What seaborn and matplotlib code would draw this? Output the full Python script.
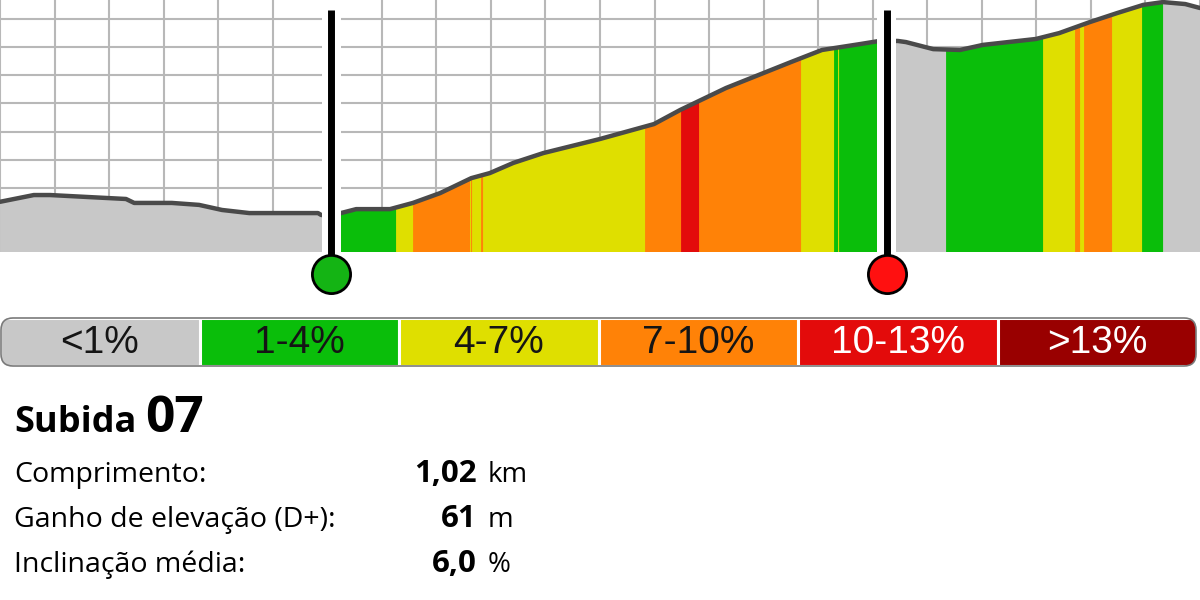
import numpy as np
import matplotlib
matplotlib.use('Agg')
import matplotlib.pyplot as plt
from matplotlib.patches import FancyBboxPatch
from matplotlib.transforms import IdentityTransform
from matplotlib.ticker import MultipleLocator
import seaborn as sns

# ----------------------------
# Data: elevation profile (km, m)
# ----------------------------
dist_km = [0.000, 0.062, 0.092, 0.161, 0.231, 0.246, 0.315, 0.365, 0.407, 0.457,
           0.583, 0.589, 0.625, 0.653, 0.715, 0.757, 0.807, 0.864, 0.898, 0.941,
           0.996, 1.100, 1.199, 1.247, 1.331, 1.450, 1.507, 1.577, 1.612, 1.646,
           1.661, 1.711, 1.760, 1.802, 1.899, 1.942, 1.998, 2.048, 2.096, 2.132,
           2.173, 2.200]
elev_m = [95.1, 97.5, 97.5, 96.8, 96.1, 94.7, 94.7, 94.0, 92.2, 91.1,
          91.1, 90.4, 91.1, 92.5, 92.5, 94.7, 98.2, 103.5, 105.3, 108.9,
          112.4, 117.4, 122.7, 127.7, 135.5, 144.7, 149.0, 151.1, 152.2, 152.2,
          151.8, 149.3, 149.0, 150.8, 152.9, 155.0, 158.9, 162.1, 165.0, 166.0,
          165.3, 163.9]

# gradient segments: end of each segment (km) and its class
seg_end_km = [0.607, 0.726, 0.757, 0.861, 0.8635, 0.866, 0.881, 0.886, 1.183,
              1.249, 1.282, 1.4685, 1.529, 1.536, 1.539, 1.626, 1.734, 1.912,
              1.970, 1.980, 1.987, 2.038, 2.093, 2.132, 2.200]
seg_class = ['<1%', '1-4%', '4-7%', '7-10%', '4-7%', '7-10%', '4-7%', '7-10%', '4-7%',
             '7-10%', '10-13%', '7-10%', '4-7%', '1-4%', '4-7%', '1-4%', '<1%', '1-4%',
             '4-7%', '7-10%', '4-7%', '7-10%', '4-7%', '1-4%', '<1%']

climb_start_km = 0.607
climb_end_km = 1.626

classes = ['<1%', '1-4%', '4-7%', '7-10%', '10-13%', '>13%']
class_colors = ['#c8c8c8', '#0abe0a', '#dfdf00', '#ff8207', '#e30b0b', '#990000']
class_text = ['#151515', '#151515', '#151515', '#151515', 'white', 'white']
palette = dict(zip(classes, class_colors))

climb_name = 'Subida'
climb_number = '07'
stat_labels = ['Comprimento:', 'Ganho de elevação (D+):', 'Inclinação média:']
stat_values = ['1,02', '61', '6,0']
stat_units = ['km', 'm', '%']

# ----------------------------
# Style
# ----------------------------
sns.set_style('white')
plt.rcParams['font.family'] = ['Open Sans', 'DejaVu Sans']

fig = plt.figure(figsize=(12, 6), dpi=100)

# ----------------------------
# Profile
# ----------------------------
ax = fig.add_axes([0, 0.58, 1, 0.42])
ylo, yhi = 77.28, 166.74
ax.set_xlim(0, 2.2)
ax.set_ylim(ylo, yhi)
ax.xaxis.set_major_locator(MultipleLocator(0.1))
ax.yaxis.set_major_locator(MultipleLocator(10))
ax.grid(True, color='#b8b8b8', lw=1.5)
ax.set_axisbelow(True)
ax.tick_params(length=0, labelbottom=False, labelleft=False)
for s in ax.spines.values():
    s.set_visible(False)

area = ax.fill_between(dist_km, elev_m, ylo, color='none', lw=0)
clip = area.get_paths()[0]
start = 0.0
for end, cls in zip(seg_end_km, seg_class):
    span = ax.axvspan(start, end, color=palette[cls], lw=0.6, zorder=2)
    span.set_clip_path(clip, ax.transData)
    start = end

sns.lineplot(x=dist_km, y=elev_m, ax=ax, color='#4a4a4a', linewidth=3.2, zorder=4)

# start / end markers
xt = ax.get_xaxis_transform()
for pos, col in [(climb_start_km, '#14b414'), (climb_end_km, '#ff1010')]:
    ax.axvspan(pos - 0.0175, pos + 0.0175, color='white', lw=0, zorder=5)
    ax.plot([pos, pos], [0.96, -0.087], transform=xt, color='black', lw=5,
            solid_capstyle='butt', clip_on=False, zorder=6)
    ax.plot([pos], [-0.087], transform=xt, marker='o', ms=27.5, mfc=col,
            mec='black', mew=2, clip_on=False, zorder=7)

# ----------------------------
# Gradient legend bar
# ----------------------------
lax = fig.add_axes([0, 0.39, 0.9975, 0.08])
sns.barplot(x=classes, y=[1] * len(classes), hue=classes, palette=palette,
            width=1.0, ax=lax, legend=False, edgecolor='white', linewidth=2.2,
            order=classes, saturation=1)
lax.set_xlim(-0.5, len(classes) - 0.5)
lax.set_ylim(0, 1)
lax.axis('off')

box = FancyBboxPatch((1, 234), 1195, 48, boxstyle='round,pad=0,rounding_size=12',
                     transform=IdentityTransform())
for p in lax.patches:
    p.set_clip_path(box)
outline = FancyBboxPatch((1, 234), 1195, 48, boxstyle='round,pad=0,rounding_size=12',
                         transform=IdentityTransform(), facecolor='none',
                         edgecolor='#7a7a7a', lw=1.2)
fig.patches.append(outline)

for i, (lab, tc) in enumerate(zip(classes, class_text)):
    lax.text(i, 0.47, lab, ha='center', va='center', fontsize=28,
             color=tc, family=['Liberation Sans', 'DejaVu Sans'])

# ----------------------------
# Climb info
# ----------------------------
def fx(px):
    return px / 1200

def fy(py):
    return 1 - py / 600

fig.text(fx(14), fy(431.7), climb_name, fontsize=26, fontweight='bold', color='black', va='baseline')
fig.text(fx(145), fy(431.7), climb_number, fontsize=37, fontweight='bold', color='black', va='baseline')

for i, (lab, val, unit) in enumerate(zip(stat_labels, stat_values, stat_units)):
    y = 481.7 + 45 * i
    fig.text(fx(14), fy(y), lab, fontsize=20.5, color='black', va='baseline')
    fig.text(fx(477), fy(y), val, fontsize=22.5, fontweight='bold', color='black',
             va='baseline', ha='right')
    fig.text(fx(488), fy(y), unit, fontsize=20, color='black', va='baseline')

fig.savefig('out.png', dpi=100)
